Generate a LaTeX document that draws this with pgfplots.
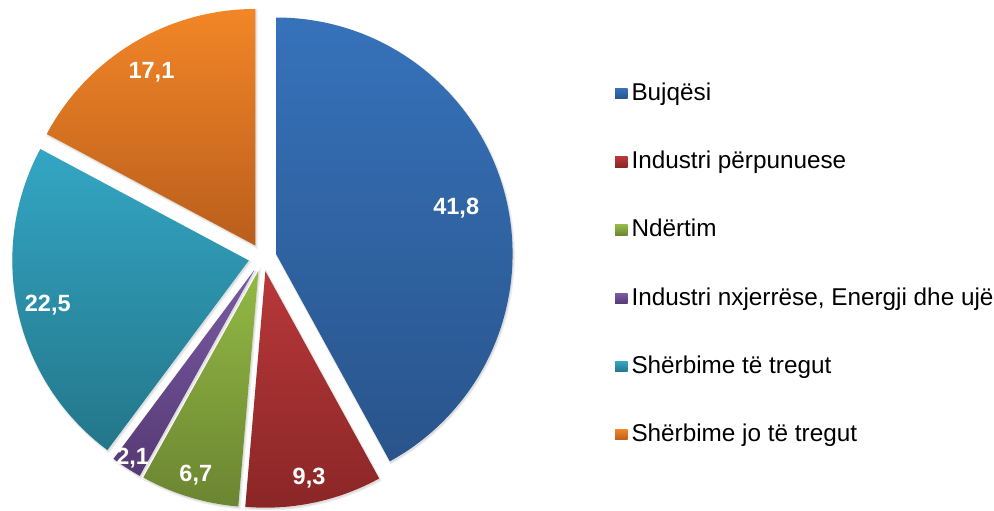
\documentclass[border=0pt]{standalone}
\usepackage{pgfplots}
\pgfplotsset{compat=1.18}
\usepackage{pgfplotstable}
\usepackage{fontspec}
\setmainfont{Liberation Sans}

\definecolor{t1}{HTML}{3672BA}\definecolor{b1}{HTML}{29548B}
\definecolor{t2}{HTML}{B8383A}\definecolor{b2}{HTML}{8A2626}
\definecolor{t3}{HTML}{93B944}\definecolor{b3}{HTML}{6B8531}
\definecolor{t4}{HTML}{7A5BA4}\definecolor{b4}{HTML}{553A74}
\definecolor{t5}{HTML}{33A6C4}\definecolor{b5}{HTML}{23768A}
\definecolor{t6}{HTML}{F28627}\definecolor{b6}{HTML}{BA5E1C}

% name; value; label distance (px) from slice apex
\pgfplotstableread[col sep=semicolon]{
name;value;lr
Bujqësi;41.8;186
Industri përpunuese;9.3;211
Ndërtim;6.7;214
Industri nxjerrëse, Energji dhe ujë;2.1;225
Shërbime të tregut;22.5;206
Shërbime jo të tregut;17.1;202
}\piedata

\begin{document}
\begin{tikzpicture}
\begin{axis}[
  width=994bp, height=511bp, scale only axis,
  xmin=0, xmax=994, ymin=0, ymax=511,
  hide axis, clip=false,
  legend cell align=left,
  legend image code/.code={\path[#1] (0bp,-4.5bp) rectangle (12.5bp,6bp);},
  legend style={
    at={(axis cs:615,427.5)}, anchor=north west,
    draw=none, fill=none, inner sep=0pt, outer sep=0pt,
    font=\fontsize{24.3bp}{29bp}\selectfont,
    nodes={inner sep=0pt, text height=17bp, text depth=5bp},
    row sep=46.2bp, column sep=4bp,
  },
]
\def\cx{262.5}\def\cy{253.5}\def\dd{14}\def\R{236.5}
% total
\def\total{0}
\pgfplotsforeachungrouped \i in {0,...,5}{%
  \pgfplotstablegetelem{\i}{value}\of\piedata
  \pgfmathsetmacro\total{\total+\pgfplotsretval}%
}
\def\cum{0}
\pgfplotsforeachungrouped \i in {0,...,5}{%
  \pgfplotstablegetelem{\i}{value}\of\piedata \let\v\pgfplotsretval
  \pgfplotstablegetelem{\i}{lr}\of\piedata \let\lr\pgfplotsretval
  \pgfplotstablegetelem{\i}{name}\of\piedata \let\nm\pgfplotsretval
  \pgfmathsetmacro\aa{\cum/\total*360}%
  \pgfmathsetmacro\ab{(\cum+\v)/\total*360}%
  \pgfmathsetmacro\am{(\aa+\ab)/2}%
  \pgfmathsetmacro\px{\cx+\dd*sin(\am)}%
  \pgfmathsetmacro\py{\cy+\dd*cos(\am)}%
  \pgfmathsetmacro\sx{\px+\R*sin(\aa)}%
  \pgfmathsetmacro\sy{\py+\R*cos(\aa)}%
  \pgfmathsetmacro\ta{90-\aa}%
  \pgfmathsetmacro\tb{90-\ab}%
  \pgfmathsetmacro\lx{\px+\lr*sin(\am)}%
  \pgfmathsetmacro\ly{\py+\lr*cos(\am)}%
  \pgfmathtruncatemacro\k{\i+1}%
  \edef\doit{%
    \noexpand\addplot[forget plot, mark=none, draw=black, line width=2.5bp, fill=black, opacity=0.07, xshift=1bp, yshift=-1.5bp]
      coordinates {(\px,\py)} -- (axis cs:\sx,\sy) arc[start angle=\ta, end angle=\tb, radius=\R bp] -- cycle;
    \noexpand\addplot[mark=none, draw=none, top color=t\k, bottom color=b\k]
      coordinates {(\px,\py)} -- (axis cs:\sx,\sy) arc[start angle=\ta, end angle=\tb, radius=\R bp] -- cycle;
    \noexpand\addlegendentry{\nm}
    \noexpand\node[text=white, font=\noexpand\fontsize{23.5bp}{28bp}\noexpand\selectfont\noexpand\bfseries]
      at (axis cs:\lx,\ly) {\noexpand\pgfmathprintnumber[use comma, fixed, precision=1, fixed zerofill, assume math mode=true]{\v}};
  }%
  \doit
  \pgfmathsetmacro\cum{\cum+\v}%
}
\end{axis}
\pgfresetboundingbox
\path[use as bounding box] (current axis.south west) rectangle (current axis.north east);
\end{tikzpicture}
\end{document}
